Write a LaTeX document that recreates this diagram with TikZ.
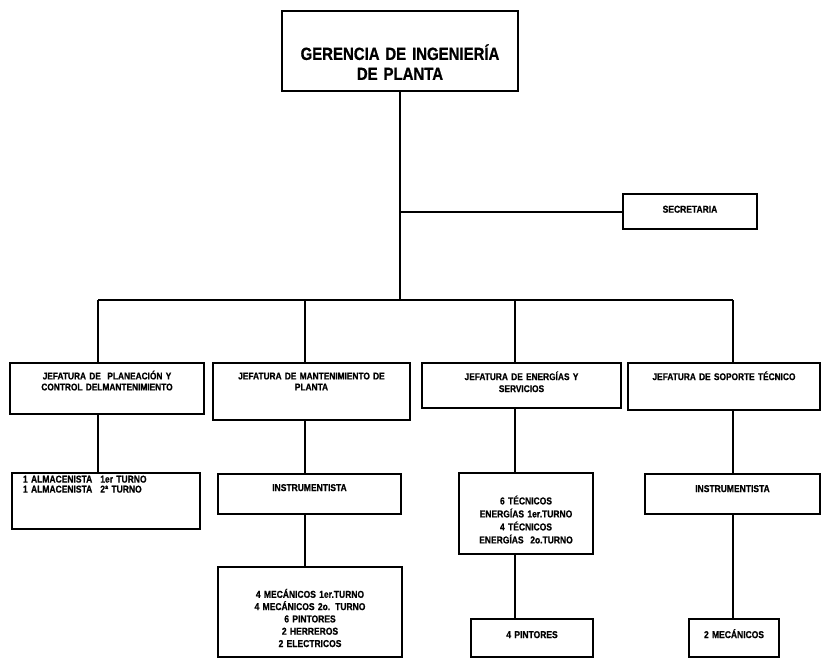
\documentclass[tikz,border=0pt]{standalone}
\usepackage{fontspec}
\newfontfamily\orgfont[FakeStretch=0.85, WordSpace=0.7, BoldFeatures={FakeBold=0.8}]{Liberation Sans}
\tikzset{
  orgbox/.style={draw, line width=2.2pt, anchor=north, inner sep=0pt, align=center},
  txt/.style 2 args={font=\orgfont\bfseries\fontsize{#1}{#2}\selectfont},
  conn/.style={line width=1.8pt},
}

\begin{document}
\begin{tikzpicture}[x=1pt, y=-1pt]
\useasboundingbox (0,0) rectangle (822,659);

\node[orgbox, line width=1.8pt, text width=236pt, text height=49pt, text depth=31pt, txt={17.6}{20}] (ger) at (400,10) {GERENCIA DE INGENIERÍA\\DE PLANTA};
\node[orgbox, text width=134pt, text height=18.6pt, text depth=16.4pt, txt={10}{12}] (sec) at (690,193) {SECRETARIA};

\node[orgbox, text width=194pt, text height=16.3pt, text depth=34.7pt, txt={9.8}{11}] (j1) at (107,362) {JEFATURA DE \ PLANEACIÓN Y\\CONTROL DELMANTENIMIENTO};
\node[orgbox, text width=197pt, text height=16.3pt, text depth=40.7pt, txt={9.8}{11}] (j2) at (311.5,362) {JEFATURA DE MANTENIMIENTO DE\\PLANTA};
\node[orgbox, text width=199pt, text height=17pt, text depth=28pt, txt={9.8}{12}] (j3) at (521.5,362) {JEFATURA DE ENERGÍAS Y\\SERVICIOS};
\node[orgbox, text width=192pt, text height=17pt, text depth=30pt, txt={9.8}{11}] (j4) at (724,362) {JEFATURA DE SOPORTE TÉCNICO};

\node[orgbox, align=left, inner xsep=11pt, text width=166pt, text height=9.5pt, text depth=46.5pt, txt={10}{10}] (a1) at (106,472) {1 ALMACENISTA\hspace{8pt}1er TURNO\\1 ALMACENISTA\hspace{8pt}2ª TURNO};
\node[orgbox, text width=183pt, text height=17pt, text depth=23pt, txt={10}{12}] (i2) at (309.5,473) {INSTRUMENTISTA};
\node[orgbox, text width=134pt, text height=31.3pt, text depth=49.7pt, txt={10}{13}] (t3) at (526,472) {6 TÉCNICOS\\ENERGÍAS 1er.TURNO\\4 TÉCNICOS\\ENERGÍAS \ 2o.TURNO};
\node[orgbox, text width=175pt, text height=18pt, text depth=22pt, txt={10}{12}] (i4) at (732.5,473) {INSTRUMENTISTA};

\node[orgbox, text width=184pt, text height=30.7pt, text depth=59.3pt, txt={10}{12.3}] (m2) at (310,566) {4 MECÁNICOS 1er.TURNO\\4 MECÁNICOS 2o. TURNO\\6 PINTORES\\2 HERREROS\\2 ELECTRICOS};
\node[orgbox, text width=122pt, text height=19pt, text depth=19pt, txt={10}{12}] (p3) at (532,618) {4 PINTORES};
\node[orgbox, text width=90pt, text height=19pt, text depth=19pt, txt={10}{12}] (m4) at (734,618) {2 MECÁNICOS};

\coordinate (b1) at (98,300);
\coordinate (b2) at (305,300);
\coordinate (b3) at (515,300);
\coordinate (b4) at (733,300);

\draw[conn] (ger) -- (ger |- b1);
\draw[conn] (sec) -- (sec -| ger);
\draw[conn] (b1) -- (b4);

\draw[conn] (b1) -- (b1 |- j1.north);
\draw[conn] (b1 |- j1.south) -- (b1 |- a1.north);

\draw[conn] (b2) -- (b2 |- j2.north);
\draw[conn] (b2 |- j2.south) -- (b2 |- i2.north);
\draw[conn] (b2 |- i2.south) -- (b2 |- m2.north);

\draw[conn] (b3) -- (b3 |- j3.north);
\draw[conn] (b3 |- j3.south) -- (b3 |- t3.north);
\draw[conn] (b3 |- t3.south) -- (b3 |- p3.north);

\draw[conn] (b4) -- (b4 |- j4.north);
\draw[conn] (b4 |- j4.south) -- (b4 |- i4.north);
\draw[conn] (b4 |- i4.south) -- (b4 |- m4.north);

\end{tikzpicture}
\end{document}
